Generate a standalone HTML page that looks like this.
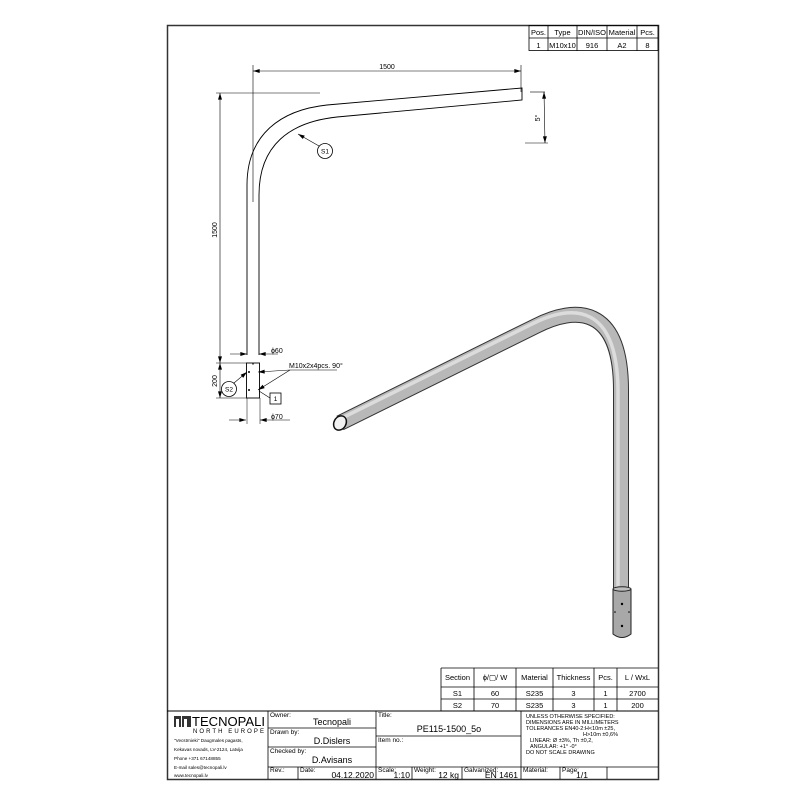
<!DOCTYPE html>
<html><head><meta charset="utf-8"><style>
html,body{margin:0;padding:0;background:#fff}
svg{display:block}
text{font-family:"Liberation Sans",sans-serif;fill:#000}
</style></head><body>
<svg width="800" height="800" viewBox="0 0 800 800" xmlns="http://www.w3.org/2000/svg">
<defs>
<marker id="a" viewBox="0 0 10 6" refX="10" refY="3" markerWidth="8" markerHeight="4" orient="auto-start-reverse" markerUnits="userSpaceOnUse"><path d="M0,0L10,3L0,6z" fill="#000"/></marker>
</defs>
<rect x="167.5" y="25.5" width="491" height="754" fill="#fff" stroke="#333" stroke-width="1.5"/>
<g stroke="#000" stroke-width="0.8" fill="none">
<rect x="529" y="25.5" width="129" height="25"/>
<line x1="529" y1="38" x2="658" y2="38"/>
<line x1="548" y1="25" x2="548" y2="51"/><line x1="577" y1="25" x2="577" y2="51"/>
<line x1="607" y1="25" x2="607" y2="51"/><line x1="637" y1="25" x2="637" y2="51"/>
</g>
<g font-size="7.5" text-anchor="middle">
<text x="538.5" y="35">Pos.</text><text x="562.5" y="35">Type</text><text x="592" y="35">DIN/ISO</text><text x="622" y="35">Material</text><text x="647.5" y="35">Pcs.</text>
<text x="538.5" y="48">1</text><text x="562.5" y="48">M10x10</text><text x="592" y="48">916</text><text x="622" y="48">A2</text><text x="647.5" y="48">8</text>
</g>
<g stroke="#000" stroke-width="0.9" fill="none">
<path d="M247,355 L247,185 C247,135 280,110 327,105 L522,88 L522,100 L337,117 C290,122 259,145 259,195 L259,355"/>
<line x1="253" y1="65" x2="253" y2="202" stroke-width="0.6"/>
<line x1="521" y1="65" x2="521" y2="92" stroke-width="0.6"/>
<line x1="253" y1="71" x2="521" y2="71" stroke-width="0.6" marker-start="url(#a)" marker-end="url(#a)"/>
<line x1="216" y1="93" x2="320" y2="93" stroke-width="0.6"/>
<line x1="220" y1="93" x2="220" y2="363" stroke-width="0.6" marker-start="url(#a)" marker-end="url(#a)"/>
<line x1="220" y1="363" x2="220" y2="398" stroke-width="0.6" marker-start="url(#a)" marker-end="url(#a)"/>
<line x1="216" y1="363" x2="247" y2="363" stroke-width="0.6"/>
<line x1="216" y1="398" x2="247" y2="398" stroke-width="0.6"/>
<rect x="246.5" y="363" width="13" height="35"/>
<line x1="230" y1="354" x2="247" y2="354" stroke-width="0.6" marker-end="url(#a)"/>
<line x1="278" y1="354" x2="259" y2="354" stroke-width="0.6" marker-end="url(#a)"/>
<line x1="229" y1="420" x2="246" y2="420" stroke-width="0.6" marker-end="url(#a)"/>
<line x1="290" y1="420" x2="260" y2="420" stroke-width="0.6" marker-end="url(#a)"/>
<line x1="247" y1="398" x2="247" y2="424" stroke-width="0.5"/>
<line x1="260" y1="398" x2="260" y2="424" stroke-width="0.5"/>
<line x1="530" y1="92" x2="545" y2="92" stroke-width="0.6"/>
<line x1="525" y1="143" x2="548" y2="143" stroke-width="0.6"/>
<line x1="544" y1="92" x2="545" y2="143" stroke-width="0.6" marker-start="url(#a)" marker-end="url(#a)"/>
<circle cx="325" cy="151" r="7.5" stroke-width="0.8"/>
<line x1="319" y1="146" x2="298" y2="134" stroke-width="0.6" marker-end="url(#a)"/>
<circle cx="229" cy="389" r="7.5" stroke-width="0.8"/>
<line x1="234" y1="383" x2="247" y2="372" stroke-width="0.6" marker-end="url(#a)"/>
<line x1="290" y1="370" x2="337" y2="370" stroke-width="0.6"/>
<line x1="290" y1="370" x2="258" y2="372" stroke-width="0.6" marker-end="url(#a)"/>
<line x1="290" y1="370" x2="258" y2="390" stroke-width="0.6" marker-end="url(#a)"/>
<rect x="270" y="393" width="11" height="11" stroke-width="0.8"/>
<line x1="270" y1="398" x2="259" y2="391" stroke-width="0.6"/>
</g>
<circle cx="249" cy="372" r="1" fill="#000"/><circle cx="249" cy="390" r="1" fill="#000"/><circle cx="253" cy="364" r="0.7" fill="#000"/>
<g font-size="7">
<text x="387" y="69" text-anchor="middle">1500</text>
<text x="217" y="230" text-anchor="middle" transform="rotate(-90 217 230)">1500</text>
<text x="217" y="381" text-anchor="middle" transform="rotate(-90 217 381)">200</text>
<text x="540" y="118" text-anchor="middle" transform="rotate(-90 540 118)">5°</text>
<text x="271" y="353">ϕ60</text>
<text x="271" y="419">ϕ70</text>
<text x="289" y="368">M10x2x4pcs. 90°</text>
<text x="325" y="153.5" text-anchor="middle" font-size="6.5">S1</text>
<text x="229" y="391.5" text-anchor="middle" font-size="6.5">S2</text>
<text x="275.5" y="401" text-anchor="middle" font-size="6.5">1</text>
</g>
<path d="M340,423 L536,326 C575,306 621,305 621,390 L621,590" fill="none" stroke="#333" stroke-width="16"/>
<path d="M340,423 L536,326 C575,306 621,305 621,390 L621,590" fill="none" stroke="#b8b8b8" stroke-width="14"/>
<path d="M338,420 L534,323 C573,304 617,304 618,390 L618,590" fill="none" stroke="#dcdcdc" stroke-width="3.5"/>
<ellipse cx="340" cy="423" rx="6" ry="7.5" transform="rotate(30 340 423)" fill="#f2f2f2" stroke="#111" stroke-width="1.5"/>
<path d="M613,589 L613,634 Q622,641 631,634 L631,589" fill="#a8a8a8" stroke="#222" stroke-width="1"/>
<ellipse cx="622" cy="589" rx="9" ry="2.2" fill="#bdbdbd" stroke="#222" stroke-width="1"/>
<circle cx="622" cy="604" r="1.2" fill="#000"/><circle cx="622" cy="626" r="1.2" fill="#000"/>
<circle cx="615" cy="612" r="0.8" fill="#000"/><circle cx="629" cy="612" r="0.8" fill="#000"/>
<g stroke="#000" stroke-width="0.8" fill="none">
<line x1="441" y1="668" x2="658" y2="668"/>
<line x1="441" y1="687" x2="658" y2="687"/>
<line x1="441" y1="699" x2="658" y2="699"/>
<line x1="167" y1="711" x2="658" y2="711" stroke-width="1"/>
<line x1="441" y1="668" x2="441" y2="711"/><line x1="474" y1="668" x2="474" y2="711"/>
<line x1="516" y1="668" x2="516" y2="711"/><line x1="553" y1="668" x2="553" y2="711"/>
<line x1="594" y1="668" x2="594" y2="711"/><line x1="617" y1="668" x2="617" y2="711"/>
<line x1="268" y1="711" x2="268" y2="779"/>
<line x1="376" y1="711" x2="376" y2="779"/>
<line x1="521" y1="711" x2="521" y2="779"/>
<line x1="268" y1="728" x2="376" y2="728"/>
<line x1="268" y1="747" x2="376" y2="747"/>
<line x1="376" y1="736" x2="521" y2="736"/>
<line x1="268" y1="767" x2="658" y2="767"/>
<line x1="298" y1="767" x2="298" y2="779"/>
<line x1="412" y1="767" x2="412" y2="779"/>
<line x1="462" y1="767" x2="462" y2="779"/>
<line x1="560" y1="767" x2="560" y2="779"/>
<line x1="607" y1="767" x2="607" y2="779"/>
</g>
<g font-size="7.5" text-anchor="middle">
<text x="457.5" y="680">Section</text><text x="495" y="680">ϕ/▢/ W</text><text x="534.5" y="680">Material</text><text x="573.5" y="680">Thickness</text><text x="605.5" y="680">Pcs.</text><text x="637.5" y="680">L / WxL</text>
<text x="457.5" y="696">S1</text><text x="495" y="696">60</text><text x="534.5" y="696">S235</text><text x="573.5" y="696">3</text><text x="605.5" y="696">1</text><text x="637.5" y="696">2700</text>
<text x="457.5" y="708">S2</text><text x="495" y="708">70</text><text x="534.5" y="708">S235</text><text x="573.5" y="708">3</text><text x="605.5" y="708">1</text><text x="637.5" y="708">200</text>
</g>
<rect x="174" y="716" width="7" height="11" fill="#333"/><rect x="182" y="716" width="9" height="11" fill="#333"/>
<rect x="176" y="719" width="3" height="8" fill="#fff"/><rect x="184" y="719" width="3" height="8" fill="#fff"/>
<text x="192" y="726" font-size="13" textLength="73" lengthAdjust="spacingAndGlyphs">TECNOPALI</text>
<text x="193" y="733" font-size="6" textLength="71" lengthAdjust="spacing">NORTH EUROPE</text>
<g font-size="4.6">
<text x="174" y="742">"Vecstrnieki" Daugmales pagasts,</text>
<text x="174" y="751">Kekavas novads, LV-2124, Latvija</text>
<text x="174" y="760">Phone +371 67148855</text>
<text x="174" y="769">E-mail sales@tecnopali.lv</text>
<text x="174" y="777">www.tecnopali.lv</text>
</g>
<g font-size="6.5">
<text x="270" y="717">Owner:</text><text x="270" y="734">Drawn by:</text><text x="270" y="753">Checked by:</text>
<text x="378" y="717">Title:</text><text x="378" y="742">Item no.:</text>
<text x="270" y="772">Rev.:</text><text x="300" y="772">Date:</text><text x="378" y="772">Scale:</text><text x="414" y="772">Weight:</text><text x="464" y="772">Galvanized:</text><text x="523" y="772">Material:</text><text x="562" y="772">Page:</text>
</g>
<g font-size="9" text-anchor="middle">
<text x="332" y="725">Tecnopali</text>
<text x="332" y="744">D.Dislers</text>
<text x="332" y="763">D.Avisans</text>
<text x="449" y="732">PE115-1500_5o</text>
</g>
<g font-size="8.5" text-anchor="end">
<text x="374" y="778">04.12.2020</text><text x="410" y="778">1:10</text><text x="459" y="778">12 kg</text><text x="518" y="778">EN 1461</text><text x="588" y="778">1/1</text>
</g>
<g font-size="5.5">
<text x="526" y="718">UNLESS OTHERWISE SPECIFIED:</text>
<text x="526" y="724">DIMENSIONS ARE IN MILLIMETERS</text>
<text x="526" y="730">TOLERANCES EN40-2:H&lt;10m ±25,</text>
<text x="583" y="736">H&gt;10m ±0,6%</text>
<text x="530" y="742">LINEAR: Ø ±3%, Th ±0,2,</text>
<text x="530" y="748">ANGULAR: +1° -0°</text>
<text x="526" y="754">DO NOT SCALE DRAWING</text>
</g>
</svg>
</body></html>
